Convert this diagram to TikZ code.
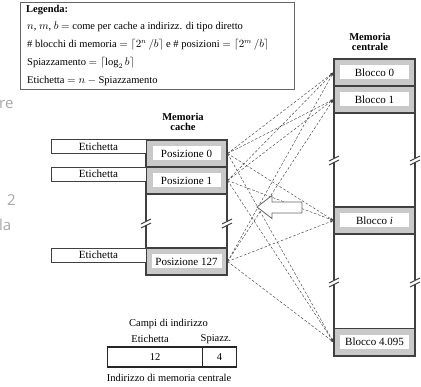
\documentclass[tikz,border=0pt]{standalone}
\usepackage{fontspec}
\setmainfont{Liberation Serif}
\newfontfamily\fadedfont{Open Sans}
\usetikzlibrary{arrows.meta}
\definecolor{cellgray}{gray}{0.79}
\definecolor{edgegray}{gray}{0.25}
\tikzset{
  txt/.style={font=\fontsize{10.5}{12}\selectfont, inner sep=0pt},
  bold/.style={font=\fontsize{10.5}{12}\selectfont\bfseries, inner sep=0pt, align=center},
  cell/.style={draw=edgegray, line width=1.1pt, fill=cellgray, minimum width=81pt, minimum height=27pt, inner sep=0pt},
  lab/.style={fill=white, minimum width=68pt, minimum height=14pt, inner sep=0pt, font=\fontsize{11}{12}\selectfont},
  tagbox/.style={draw=edgegray, line width=0.7pt, fill=white, minimum width=95pt, minimum height=14pt, inner sep=0pt, font=\fontsize{11}{12}\selectfont},
  link/.style={draw=black!75, line width=0.45pt, dash pattern=on 2.6pt off 1.8pt, -{Stealth[length=3.5pt,width=2.4pt]}},
  faded/.style={text=black!35, font=\fadedfont\fontsize{15}{16}\selectfont, inner sep=0pt, anchor=west},
  brk/.style={line width=0.9pt, draw=edgegray},
}
\begin{document}
\begin{tikzpicture}[x=1pt,y=-1pt]
\useasboundingbox (0,0) rectangle (421,387);
% faded page fragments
\node[faded] (f1) at (-1,104) {re};
\node[faded] (f2) at (7,200) {2};
\node[faded] (f3) at (-1,225) {la};
% legend
\draw[draw=black!60, line width=0.8pt] (20,2) rectangle (294,89);
\node[txt, anchor=west, font=\fontsize{10.5}{12}\selectfont\bfseries] (lg) at (26,10) {Legenda:};
\node[txt, anchor=west] (l1) at (27,26.5) {$n$, $m$, $b$ $=$ come per cache a indirizz. di tipo diretto};
\node[txt, anchor=west] (l2) at (27,45) {\# blocchi di memoria $=\lceil 2^n\,/b\rceil$ e \# posizioni $=\lceil 2^m\,/b\rceil$};
\node[txt, anchor=west] (l3) at (27,63) {Spiazzamento $=\lceil \log_2 b\rceil$};
\node[txt, anchor=west] (l4) at (27,81) {Etichetta $=n-{}$Spiazzamento};
% cache
\node[bold] (ct) at (183,122) {Memoria\\[-2pt]cache};
\draw[draw=edgegray, line width=1.1pt] (146,140) rectangle (227,275);
\node[cell] (c0) at (186.5,153.5) {};
\node[cell] (c1) at (186.5,180.5) {};
\node[cell] (c127) at (186.5,261.5) {};
\node[lab] at (c0) {Posizione 0};
\node[lab] at (c1) {Posizione 1};
\node[lab, minimum width=70pt] at (c127) {Posizione 127};
% tags
\node[tagbox] (t0) at (98.5,146.5) {Etichetta};
\node[tagbox] (t1) at (98.5,174) {Etichetta};
\node[tagbox] (t127) at (98.5,255) {Etichetta};
% main memory
\node[bold] (mt) at (370,42) {Memoria\\[-2pt]centrale};
\draw[draw=edgegray, line width=1.1pt] (334,59) rectangle (415,356);
\node[cell] (m0) at (374.5,72.5) {};
\node[cell] (m1) at (374.5,99.5) {};
\node[cell] (mi) at (374.5,220.5) {};
\node[cell] (mn) at (374.5,342) {};
\node[lab, minimum width=69pt] at (m0) {Blocco 0};
\node[lab, minimum width=69pt] at (m1) {Blocco 1};
\node[lab, minimum width=69pt] at (mi) {Blocco \textit{i}};
\node[lab, minimum width=69pt] at (mn) {Blocco 4.095};
% breaks
\foreach \bx/\by in {146/223,227/223,334/160,415/160,334/282,415/282}{
  \fill[white] (\bx-3,\by-1.5) rectangle (\bx+3,\by+2.5);
  \draw[brk] (\bx-5,\by+1) -- (\bx+5,\by-4);
  \draw[brk] (\bx-5,\by+5) -- (\bx+5,\by);
}
% dashed links
\foreach \c in {c0,c1,c127}{
  \foreach \m in {m0,m1,mi,mn}{
    \draw[link] (\c.east) -- (\m.west);
  }
}
% hollow arrow
\draw[draw=black!60, line width=0.8pt, fill=white] (257,207) -- (272,195.5) -- (272,202) -- (302,202) -- (302,213) -- (272,213) -- (272,218.5) -- cycle;
% address fields
\node[txt] (cf) at (168.5,324) {Campi di indirizzo};
\node[txt] (fe) at (150,339) {Etichetta};
\node[txt] (fs) at (216,339) {Spiazz.};
\node[draw=black!85, line width=1.2pt, minimum width=95pt, minimum height=20pt, inner sep=0pt, txt, anchor=west] (f12) at (107,357) {12};
\node[draw=black!85, line width=1.2pt, minimum width=34pt, minimum height=20pt, inner sep=0pt, txt, anchor=west] (f4) at (202,357) {4};
\node[txt] (fi) at (169,378) {Indirizzo di memoria centrale};
\end{tikzpicture}
\end{document}
